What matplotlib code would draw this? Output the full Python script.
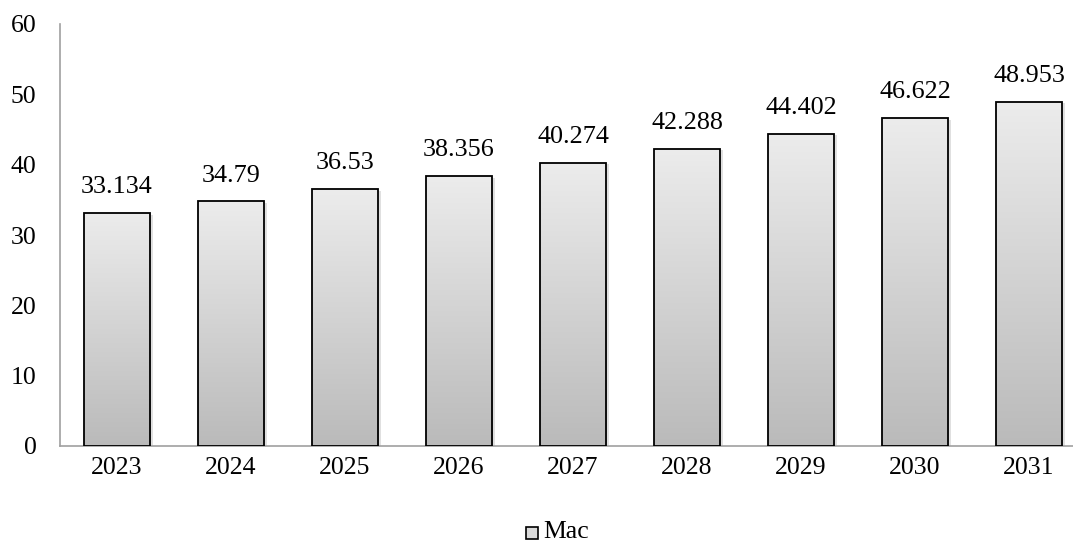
import numpy as np
import matplotlib
matplotlib.use('Agg')
import matplotlib.pyplot as plt
from matplotlib.colors import LinearSegmentedColormap
from matplotlib.patches import Rectangle

plt.rcParams['font.family'] = ['Liberation Serif', 'DejaVu Serif']

years = ['2023', '2024', '2025', '2026', '2027', '2028', '2029', '2030', '2031']
mac = [33.134, 34.79, 36.53, 38.356, 40.274, 42.288, 44.402, 46.622, 48.953]
labels = ['33.134', '34.79', '36.53', '38.356', '40.274', '42.288', '44.402', '46.622', '48.953']

fig = plt.figure(figsize=(10.73, 5.41), dpi=100)
ax = fig.add_axes([60 / 1073, (541 - 446) / 541, 1026 / 1073, 422 / 541])

grad = LinearSegmentedColormap.from_list('bargrad', ['#bababa', '#ececec'])
x = np.arange(len(years))
width = 0.58

# soft drop shadow behind each bar
ax.bar(x + 0.025, mac, width, bottom=-0.25, color='#000000', alpha=0.12,
       linewidth=0, zorder=1)
bars = ax.bar(x, mac, width, color='none', edgecolor='black', linewidth=1.3,
              zorder=3, label='Mac')

gy = np.linspace(0, 1, 256).reshape(-1, 1)
for b in bars:
    x0, y0, w, h = b.get_x(), b.get_y(), b.get_width(), b.get_height()
    im = ax.imshow(gy, cmap=grad, aspect='auto', origin='lower',
                   extent=[x0, x0 + w, y0, y0 + h], zorder=2)
    clip = Rectangle((x0, y0), w, h, transform=ax.transData)
    im.set_clip_path(clip)

for xi, v, s in zip(x, mac, labels):
    ax.text(xi, v + 2.1, s, ha='center', va='bottom', fontsize=18.8)

ax.set_xlim(-0.5, len(years) - 0.5)
ax.set_ylim(0, 60)
ax.set_xticks(x)
ax.set_xticklabels(years)
ax.set_yticks(range(0, 61, 10))
ax.tick_params(length=0, labelsize=18.5)
ax.tick_params(axis='y', pad=17)
ax.tick_params(axis='x', pad=8)
for side in ['top', 'right']:
    ax.spines[side].set_visible(False)
for side in ['left', 'bottom']:
    ax.spines[side].set_color('#a0a0a0')
    ax.spines[side].set_linewidth(1.2)

# legend entry below the axis
fig.patches.append(Rectangle((526 / 1073, 1 - 539 / 541), 12 / 1073, 12 / 541,
                             transform=fig.transFigure, facecolor='#dadada',
                             edgecolor='black', linewidth=1.2))
fig.text(543 / 1073, 1 - 532 / 541, 'Mac', ha='left', va='center', fontsize=18.5)

fig.savefig('out.png', dpi=100)
